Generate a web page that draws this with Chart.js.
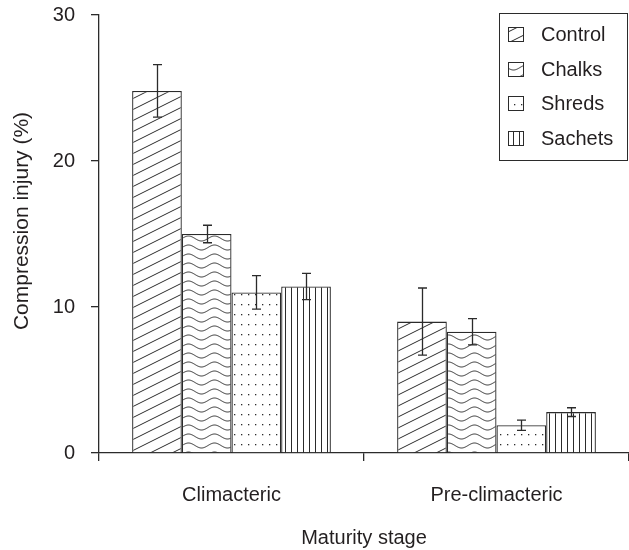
<!DOCTYPE html>
<html><head><meta charset="utf-8">
<script src="https://cdn.jsdelivr.net/npm/chart.js@4/dist/chart.umd.min.js"></script>
<style>html,body{margin:0;padding:0;background:#fff;}</style>
</head><body>
<canvas id="c" width="629" height="550"></canvas>
<script>
// ---- data ----
const categories = ['Climacteric', 'Pre-climacteric'];
const seriesNames = ['Control', 'Chalks', 'Shreds', 'Sachets'];
const controlValues = [24.8, 9.0];
const chalksValues = [15.0, 8.3];
const shredsValues = [11.0, 1.9];
const sachetsValues = [11.4, 2.8];
const controlErrors = [1.8, 2.3];
const chalksErrors = [0.6, 0.9];
const shredsErrors = [1.15, 0.35];
const sachetsErrors = [0.9, 0.3];
const yTickValues = [0, 10, 20, 30];
const yTitle = 'Compression injury (%)';
const xTitle = 'Maturity stage';

const INK = '#2b2b2b';
const TEXT = '#231f20';
const FONT = "'Liberation Sans', Arial, Helvetica, sans-serif";

// ---- patterns ----
function makeTile(w, h, draw) {
  const t = document.createElement('canvas');
  t.width = w; t.height = h;
  const g = t.getContext('2d');
  g.fillStyle = '#fff'; g.fillRect(0, 0, w, h);
  g.strokeStyle = INK; g.fillStyle = INK; g.lineWidth = 1;
  draw(g, w, h);
  return document.createElement('canvas').getContext('2d').createPattern(t, 'repeat');
}
const patDiag = makeTile(22, 11, (g, w, h) => {
  for (let k = -1; k <= 1; k++) {
    g.beginPath();
    g.moveTo(-w, 2 * h + k * h); g.lineTo(2 * w, -h + k * h); g.stroke();
  }
});
const patWave = makeTile(26, 9, (g, w, h) => {
  for (let k = -1; k <= 1; k++) {
    g.beginPath();
    for (let x = -1; x <= w + 1; x += 0.5) {
      const y = h / 2 + k * h - 2.5 * Math.sin(2 * Math.PI * x / w);
      if (x === -1) g.moveTo(x, y); else g.lineTo(x, y);
    }
    g.stroke();
  }
});
const patDots = makeTile(7, 10, (g) => { g.fillRect(3, 4, 1.3, 1.3); });
const patVert = makeTile(6, 4, (g, w, h) => {
  g.beginPath(); g.moveTo(3.5, 0); g.lineTo(3.5, h); g.stroke();
});
const patterns = [patDiag, patWave, patDots, patVert];
const valueSets = [controlValues, chalksValues, shredsValues, sachetsValues];
const errorSets = [controlErrors, chalksErrors, shredsErrors, sachetsErrors];

// ---- plugins ----
const errorBars = {
  id: 'errorBars',
  afterDatasetsDraw(chart) {
    const ctx = chart.ctx, ys = chart.scales.y;
    ctx.save();
    ctx.strokeStyle = INK; ctx.lineWidth = 1.3;
    chart.data.datasets.forEach((ds, i) => {
      const meta = chart.getDatasetMeta(i);
      meta.data.forEach((el, j) => {
        const v = ds.data[j], e = ds.errors[j];
        const x = Math.round(el.x) + 0.5;
        const yt = ys.getPixelForValue(v + e), yb = ys.getPixelForValue(v - e);
        ctx.beginPath();
        ctx.moveTo(x, yt); ctx.lineTo(x, yb);
        ctx.moveTo(x - 4.5, yt); ctx.lineTo(x + 4.5, yt);
        ctx.moveTo(x - 4.5, yb); ctx.lineTo(x + 4.5, yb);
        ctx.stroke();
      });
    });
    ctx.restore();
  }
};
const legendBox = {
  id: 'legendBox',
  afterDraw(chart) {
    const ctx = chart.ctx;
    ctx.save();
    ctx.strokeStyle = INK; ctx.lineWidth = 1;
    ctx.strokeRect(499.5, 13.5, 128, 147);
    ctx.font = '20px ' + FONT;
    ctx.fillStyle = TEXT;
    ctx.textBaseline = 'middle';
    chart.data.datasets.forEach((ds, i) => {
      const cy = 34.5 + i * 34.5;
      ctx.fillStyle = ds.backgroundColor;
      ctx.fillRect(508.5, Math.round(cy - 7.5) + 0.5, 15, 14);
      ctx.strokeRect(508.5, Math.round(cy - 7.5) + 0.5, 15, 14);
      ctx.fillStyle = TEXT;
      ctx.fillText(ds.label, 541, cy + 1);
    });
    ctx.restore();
  }
};
const yTitlePlugin = {
  id: 'yTitle',
  afterDraw(chart) {
    const ctx = chart.ctx;
    ctx.save();
    ctx.translate(22, 221);
    ctx.rotate(-Math.PI / 2);
    ctx.font = '21px ' + FONT;
    ctx.fillStyle = TEXT;
    ctx.textAlign = 'center';
    ctx.textBaseline = 'middle';
    ctx.fillText(yTitle, 0, 0);
    ctx.restore();
  }
};

Chart.defaults.font.family = FONT;
Chart.defaults.font.size = 20;
Chart.defaults.color = TEXT;

new Chart(document.getElementById('c'), {
  type: 'bar',
  data: {
    labels: categories,
    datasets: seriesNames.map((name, i) => ({
      label: name,
      data: valueSets[i],
      errors: errorSets[i],
      backgroundColor: patterns[i],
      borderColor: INK,
      borderWidth: 1.3,
      categoryPercentage: 0.75,
      barPercentage: 1.0
    }))
  },
  options: {
    responsive: false,
    animation: false,
    devicePixelRatio: 1,
    layout: { padding: { top: 15, right: 0, bottom: 0, left: 0 } },
    plugins: { legend: { display: false }, tooltip: { enabled: false } },
    scales: {
      x: {
        grid: { display: true, drawOnChartArea: false, drawTicks: true, tickLength: 8, color: INK, lineWidth: 1.3, offset: true },
        border: { display: true, color: INK, width: 1.3 },
        ticks: { padding: 22, font: { size: 20 }, color: TEXT, maxRotation: 0 },
        title: { display: true, text: xTitle, font: { size: 20 }, color: TEXT, padding: { top: 0, bottom: 0 } },
        afterFit(s) { s.height = 97; s.paddingLeft = 0; s.paddingRight = 0; }
      },
      y: {
        min: 0, max: 30,
        afterBuildTicks(s) { s.ticks = yTickValues.map(v => ({ value: v })); },
        grid: { display: true, drawOnChartArea: false, drawTicks: true, tickLength: 8, color: INK, lineWidth: 1.3 },
        border: { display: true, color: INK, width: 1.3 },
        ticks: { padding: 16, font: { size: 20 }, color: TEXT },
        afterFit(s) { s.width = 99; s.paddingTop = 0; s.paddingBottom = 0; }
      }
    }
  },
  plugins: [errorBars, legendBox, yTitlePlugin]
});
</script>
</body></html>
